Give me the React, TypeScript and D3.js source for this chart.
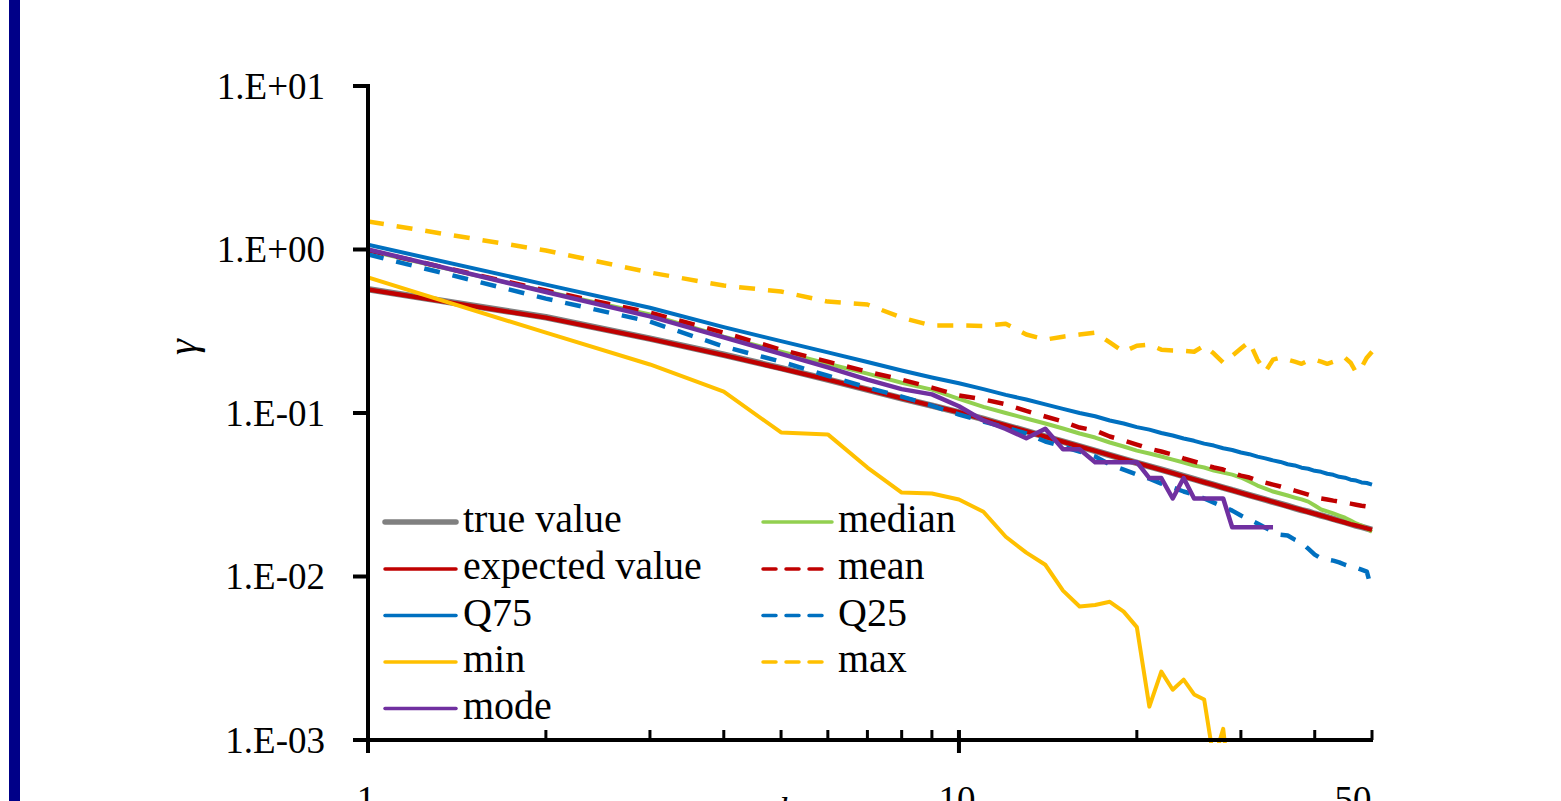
import React from 'react';
import * as d3 from 'd3';

// ---- data ----
const kValues = [1,2,3,4,5,6,7,8,9,10,11,12,13,14,15,16,17,18,19,20,21,22,23,24,25,26,27,28,29,30,31,32,33,34,35,36,37,38,39,40,41,42,43,44,45,46,47,48,49,50];

const trueValue = [0.572,0.385,0.285,0.227,0.188,0.160,0.139,0.123,0.111,0.101,0.0919,0.0841,0.0774,0.0717,0.0668,0.0625,0.0587,0.0553,0.0523,0.0496,0.0472,0.0450,0.0430,0.0411,0.0394,0.0378,0.0363,0.0350,0.0337,0.0326,0.0315,0.0305,0.0295,0.0286,0.0278,0.0270,0.0262,0.0255,0.0249,0.0242,0.0236,0.0231,0.0225,0.0220,0.0215,0.0210,0.0205,0.0201,0.0197,0.0193];

const expectedValue = [0.569,0.383,0.284,0.226,0.187,0.160,0.139,0.123,0.111,0.101,0.0918,0.0840,0.0773,0.0716,0.0667,0.0624,0.0586,0.0552,0.0522,0.0495,0.0471,0.0449,0.0429,0.0410,0.0393,0.0377,0.0363,0.0349,0.0337,0.0325,0.0314,0.0304,0.0295,0.0286,0.0277,0.0269,0.0262,0.0255,0.0248,0.0242,0.0236,0.0230,0.0224,0.0219,0.0214,0.0209,0.0205,0.0201,0.0197,0.0193];

const median = [0.986,0.553,0.400,0.293,0.237,0.200,0.174,0.153,0.139,0.122,0.109,0.100,0.0926,0.0862,0.0804,0.0749,0.0708,0.0660,0.0624,0.0589,0.0565,0.0542,0.0519,0.0498,0.0477,0.0464,0.0445,0.0432,0.0420,0.0403,0.0381,0.0360,0.0345,0.0331,0.0322,0.0313,0.0304,0.0296,0.0287,0.0272,0.0257,0.0250,0.0243,0.0236,0.0229,0.0220,0.0211,0.0205,0.0196,0.0188];

const mean = [0.99,0.561,0.411,0.310,0.244,0.206,0.179,0.160,0.143,0.128,0.121,0.113,0.103,0.0952,0.0887,0.0815,0.0781,0.0718,0.0679,0.0641,0.0606,0.0581,0.0557,0.0527,0.0505,0.0484,0.0464,0.0451,0.0432,0.0414,0.0403,0.0386,0.0375,0.0365,0.0355,0.0345,0.0335,0.0326,0.0317,0.0308,0.0300,0.0296,0.0291,0.0287,0.0283,0.0279,0.0275,0.0271,0.0268,0.0260];

const q75 = [1.07,0.61,0.44,0.335,0.275,0.235,0.205,0.182,0.165,0.152,0.140,0.129,0.121,0.113,0.106,0.100,0.0955,0.0900,0.0862,0.0820,0.0791,0.0755,0.0728,0.0698,0.0676,0.0650,0.0632,0.0609,0.0594,0.0573,0.0560,0.0541,0.0528,0.0513,0.0502,0.0486,0.0478,0.0463,0.0456,0.0443,0.0437,0.0425,0.0419,0.0407,0.0402,0.0391,0.0386,0.0376,0.0373,0.0365];

const q25 = [0.932,0.501,0.362,0.255,0.206,0.169,0.143,0.126,0.111,0.0979,0.0887,0.0815,0.0749,0.0669,0.0624,0.0581,0.0542,0.0484,0.0451,0.0420,0.0397,0.0370,0.0350,0.0331,0.0317,0.0300,0.0283,0.0268,0.0253,0.0236,0.0223,0.0211,0.0199,0.0188,0.0180,0.0178,0.0168,0.0161,0.0148,0.0136,0.0129,0.0127,0.0125,0.0122,0.0118,0.0115,0.0113,0.0110,0.0107,0.0082];

const minValue = [0.674,0.310,0.198,0.135,0.076,0.074,0.0464,0.0326,0.0322,0.0296,0.0249,0.0175,0.0140,0.0118,0.0082,0.00655,0.0067,0.0070,0.0061,0.0049,0.0016,0.00262,0.00203,0.00234,0.0019,0.00177,0.00075,0.00117,0.00040,0.00035,0.00050,0.00030,0.00045,0.00030,0.00040,0.00025,0.00035,0.00030,0.00040,0.00025,0.00030,0.00035,0.00025,0.00030,0.00020,0.00030,0.00025,0.00020,0.00030,0.00020];

const maxValue = [1.483,0.986,0.723,0.602,0.553,0.480,0.461,0.383,0.343,0.343,0.341,0.352,0.302,0.281,0.293,0.302,0.310,0.270,0.237,0.258,0.262,0.244,0.241,0.240,0.237,0.258,0.231,0.203,0.224,0.248,0.273,0.212,0.179,0.212,0.218,0.212,0.206,0.200,0.209,0.212,0.206,0.200,0.206,0.212,0.218,0.203,0.177,0.190,0.218,0.237];

const mode = [1.00,0.55,0.39,0.29,0.23,0.19,0.16,0.14,0.13,0.11,0.09,0.08,0.07,0.08,0.06,0.06,0.05,0.05,0.05,0.05,0.04,0.04,0.03,0.04,0.03,0.03,0.03,0.03,0.02,0.02,0.02,0.02,0.02,0.02,null,null,null,null,null,null,null,null,null,null,null,null,null,null,null,null];

const yTickValues = [10, 1, 0.1, 0.01, 0.001];
const yTickLabels = ['1.E+01', '1.E+00', '1.E-01', '1.E-02', '1.E-03'];
const xMajorTicks = [1, 10];
const xMinorTicks = [2, 3, 4, 5, 6, 7, 8, 9, 20, 30, 40, 50];
const xTickLabelValues = [1, 10, 50];
const xTickLabels = ['1', '10', '50'];

type Series = { name: string; data: (number | null)[]; color: string; width: number; dash?: string; legendWidth: number };

const DASH = '16,13';

// draw order (Excel series order)
const series: Series[] = [
  { name: 'true value', data: trueValue, color: '#808080', width: 6.5, legendWidth: 5.5 },
  { name: 'median', data: median, color: '#92D050', width: 4, legendWidth: 3.5 },
  { name: 'expected value', data: expectedValue, color: '#C00000', width: 4.5, legendWidth: 3.5 },
  { name: 'mean', data: mean, color: '#C00000', width: 4.5, dash: DASH, legendWidth: 3.5 },
  { name: 'Q75', data: q75, color: '#0070C0', width: 4, legendWidth: 3.5 },
  { name: 'Q25', data: q25, color: '#0070C0', width: 4.5, dash: DASH, legendWidth: 3.5 },
  { name: 'min', data: minValue, color: '#FFC000', width: 4, legendWidth: 3.5 },
  { name: 'max', data: maxValue, color: '#FFC000', width: 4.5, dash: DASH, legendWidth: 3.5 },
  { name: 'mode', data: mode, color: '#7030A0', width: 4.5, legendWidth: 3.5 },
];

const legendLeft = ['true value', 'expected value', 'Q75', 'min', 'mode'];
const legendRight = ['median', 'mean', 'Q25', 'max'];

const FONT = "'Liberation Serif', 'Times New Roman', serif";

export default function App() {
  const W = 1561;
  const H = 801;
  const x = d3.scaleLog().domain([1, 50]).range([368, 1372]);
  const y = d3.scaleLog().domain([0.001, 10]).range([740, 86]);
  const axisY = 740;
  const axisX = 368;

  const lineGen = d3
    .line<[number, number | null]>()
    .defined((d) => d[1] != null && (d[1] as number) > 0)
    .x((d) => x(d[0]))
    .y((d) => y(d[1] as number));

  const byName = (n: string) => series.find((s) => s.name === n)!;
  const rowY = [522, 569, 615.5, 662, 708.5];

  const legendItem = (name: string, i: number, x1: number, x2: number, tx: number) => {
    const s = byName(name);
    return (
      <g key={name}>
        <line x1={x1} x2={x2} y1={rowY[i]} y2={rowY[i]} stroke={s.color} strokeWidth={s.legendWidth}
          strokeDasharray={s.dash ? '13,10' : undefined} strokeLinecap="round" />
        <text x={tx} y={rowY[i] + 10} fontFamily={FONT} fontSize={40} fill="#000">{name}</text>
      </g>
    );
  };

  return (
    <svg width={W} height={H} style={{ position: 'absolute', left: 0, top: 0, background: '#fff' }}>
      <rect x={0} y={0} width={W} height={H} fill="#fff" />
      <rect x={9} y={0} width={11} height={H} fill="#000088" />
      <defs>
        <clipPath id="plotClip">
          <rect x={axisX} y={60} width={1006} height={683} />
        </clipPath>
      </defs>

      {/* series */}
      <g clipPath="url(#plotClip)">
        {series.map((s) => (
          <path key={s.name}
            d={lineGen(kValues.map((k, i) => [k, s.data[i]] as [number, number | null])) || ''}
            fill="none" stroke={s.color} strokeWidth={s.width}
            strokeDasharray={s.dash} strokeLinejoin="round" strokeLinecap="butt" />
        ))}
      </g>

      {/* y axis */}
      <line x1={axisX} x2={axisX} y1={y(10) - 2} y2={axisY} stroke="#000" strokeWidth={4} />
      {yTickValues.map((v, i) => (
        <g key={v}>
          <line x1={axisX - 15} x2={axisX} y1={y(v)} y2={y(v)} stroke="#000" strokeWidth={4} />
          <text x={325} y={y(v)} dominantBaseline="central" textAnchor="end" fontFamily={FONT} fontSize={37} fill="#000">
            {yTickLabels[i]}
          </text>
        </g>
      ))}

      {/* x axis */}
      <line x1={axisX - 2} x2={x(50) + 1} y1={axisY} y2={axisY} stroke="#000" strokeWidth={4} />
      {xMinorTicks.map((v) => (
        <line key={v} x1={x(v)} x2={x(v)} y1={axisY - 10} y2={axisY} stroke="#000" strokeWidth={3} />
      ))}
      {xMajorTicks.map((v) => (
        <line key={v} x1={x(v)} x2={x(v)} y1={v === 1 ? axisY : axisY - 10} y2={axisY + 13} stroke="#000" strokeWidth={4} />
      ))}
      {xTickLabelValues.map((v, i) => (
        <text key={v} x={v === 50 ? x(v) - 19 : x(v) - 2} y={812} textAnchor="middle" fontFamily={FONT} fontSize={37} fill="#000">
          {xTickLabels[i]}
        </text>
      ))}
      <text x={787} y={822} textAnchor="middle" fontFamily={FONT} fontStyle="italic" fontSize={36} fill="#000">k</text>

      {/* y title */}
      <text transform="translate(196,347) rotate(-90)" textAnchor="middle" fontFamily={FONT} fontStyle="italic" fontSize={40} fill="#000">γ</text>

      {/* legend */}
      {legendLeft.map((n, i) => legendItem(n, i, 385, 456, 463))}
      {legendRight.map((n, i) => legendItem(n, i, 763, 832, 838))}
    </svg>
  );
}
